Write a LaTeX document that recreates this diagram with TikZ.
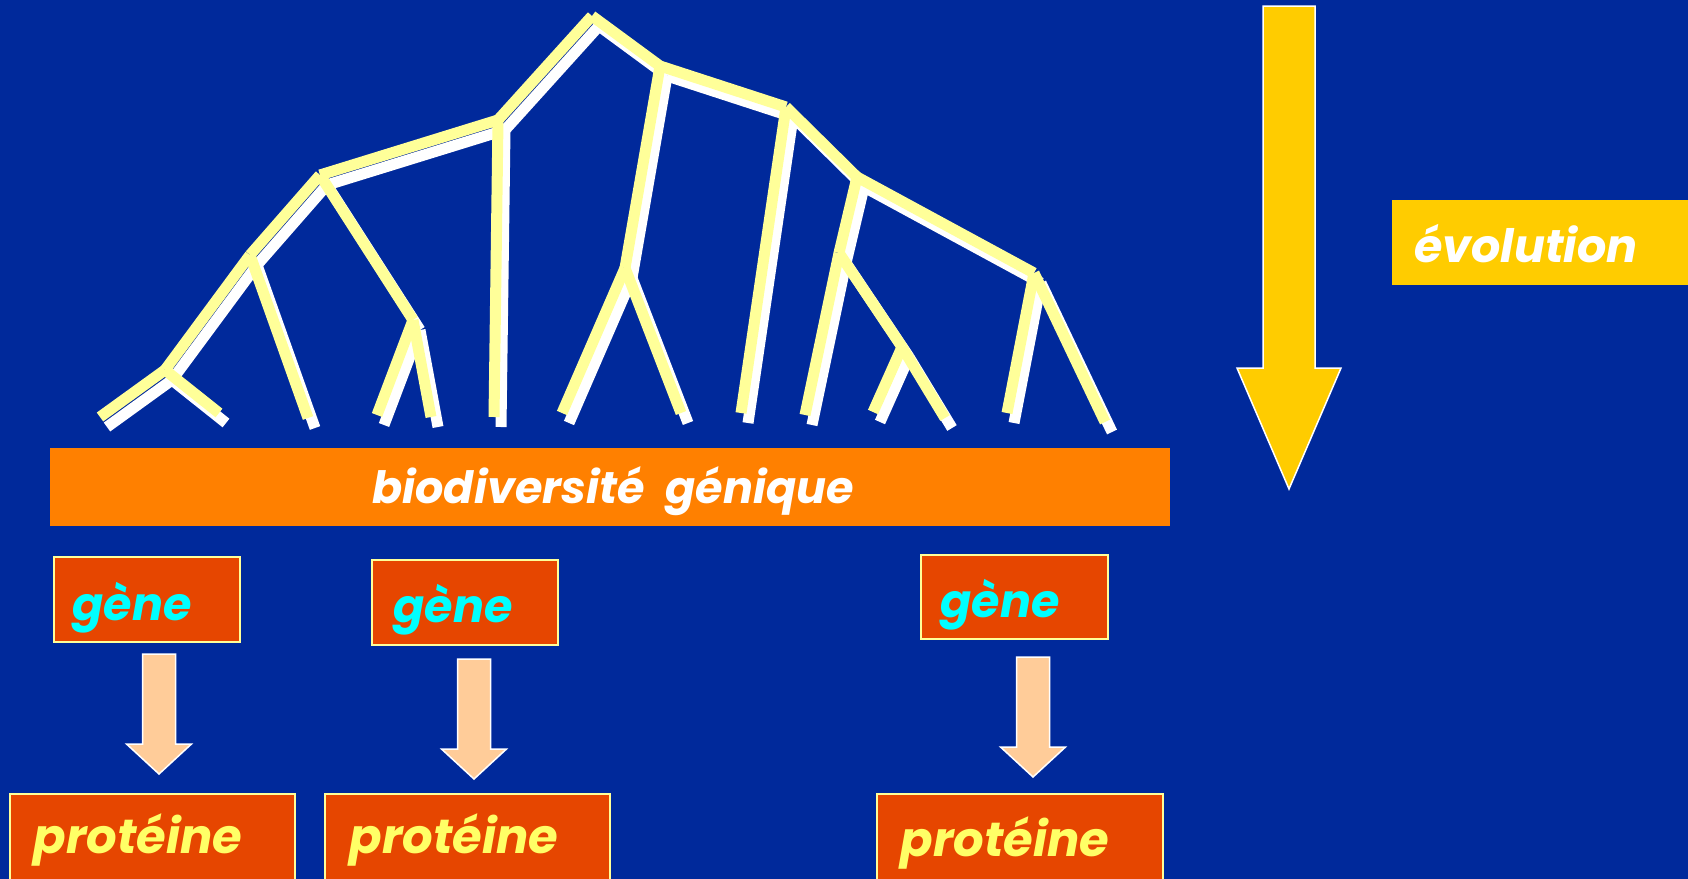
\documentclass[tikz,border=0pt]{standalone}
\usepackage{fontspec}
\setmainfont{Poppins}

\definecolor{bgblue}{HTML}{00299B}
\definecolor{bgdark}{HTML}{001C7C}
\definecolor{treeyellow}{HTML}{FFFF99}
\definecolor{barorange}{HTML}{FF8000}
\definecolor{boxorange}{HTML}{E64600}
\definecolor{evoyellow}{HTML}{FFCC00}
\definecolor{peach}{HTML}{FFCC99}
\definecolor{protyellow}{HTML}{FFFF66}
\definecolor{genecyan}{HTML}{00FFFF}

\begin{document}
\begin{tikzpicture}[x=1pt,y=-1pt,
    branch/.style={draw=treeyellow,line width=11},
    branchshadow/.style={draw=white,line width=11},
    box/.style={rectangle,fill=boxorange,draw=treeyellow,line width=1.5},
    blockarrow/.style={draw=white,line width=1.5},
    word/.style={inner sep=0,anchor=base,font=\bfseries\itshape}]

\useasboundingbox (0,0) rectangle (1688,878);
\clip (0,0) rectangle (1688,878);
\shade[left color=bgblue,middle color=bgdark,right color=bgblue] (0,0) rectangle (1688,878);

% tree
\coordinate (A) at (592,16);
\coordinate (B) at (498,120);
\coordinate (C) at (660,66);
\coordinate (D) at (320,175);
\coordinate (E) at (250,255);
\coordinate (F) at (413,320);
\coordinate (G) at (165,370);
\coordinate (H) at (625,268);
\coordinate (I) at (786,107);
\coordinate (J) at (857,177);
\coordinate (K) at (839,253);
\coordinate (L) at (1034,273);
\coordinate (M) at (902,347);
\coordinate (l1) at (100,417);
\coordinate (l2) at (219,413);
\coordinate (l3) at (308,418);
\coordinate (l4) at (377,415);
\coordinate (l5) at (431,417);
\coordinate (l6) at (494,417);
\coordinate (l7) at (562,413);
\coordinate (l8) at (681,413);
\coordinate (l9) at (741,413);
\coordinate (l10) at (805,415);
\coordinate (l11) at (873,412);
\coordinate (l12) at (945,418);
\coordinate (l13) at (1007,413);
\coordinate (l14) at (1105,422);

\def\treelist{A/B,A/C,B/D,B/l6,D/E,D/F,E/G,E/l3,G/l1,G/l2,F/l4,F/l5,
  C/H,C/I,H/l7,H/l8,I/l9,I/J,J/K,J/L,K/l10,K/M,M/l11,M/l12,L/l13,L/l14}

\begin{scope}[transform canvas={shift={(7,10)}}]
\foreach \a/\b in \treelist
  \draw[branchshadow] (\a) -- (\b);
\end{scope}
\foreach \a/\b in \treelist
  \draw[branch] (\a) -- (\b);

% bars
\node[rectangle,fill=barorange,minimum width=1120,minimum height=78] (bar) at (610,486.5) {};
\node[word,text=white,font=\fontsize{44.5}{52}\selectfont\bfseries\itshape] at (613,503) {biodiversité~~génique};

\node[rectangle,fill=evoyellow,minimum width=310,minimum height=85] (evobox) at (1547,242.5) {};
\node[word,text=white,font=\fontsize{46}{54}\selectfont\bfseries\itshape] at (1526,262) {évolution};

% evolution arrow
\draw[blockarrow,fill=evoyellow] (1289,6) coordinate (evo) -- ++(26,0) -- ++(0,362) -- ++(26,0)
  -- ++(-52,121) -- ++(-52,-121) -- ++(26,0) -- ++(0,-362) -- cycle;

% genes and proteins
\node[box,minimum width=186,minimum height=85] (gene1) at (147,599.5) {};
\node[box,minimum width=186,minimum height=85] (gene2) at (465,602.5) {};
\node[box,minimum width=187,minimum height=84] (gene3) at (1014.5,597) {};
\node[box,minimum width=285,minimum height=106] (prot1) at (152.5,847) {};
\node[box,minimum width=285,minimum height=106] (prot2) at (467.5,847) {};
\node[box,minimum width=286,minimum height=106] (prot3) at (1020,847) {};

\foreach \x/\y/\t in {132/620/gène,453/622/gène,1000/617/gène}
  \node[word,text=genecyan,font=\fontsize{46}{54}\selectfont\bfseries\itshape] at (\x,\y) {\t};
\foreach \x/\y/\t in {138/853/protéine,454/853/protéine,1005/856/protéine}
  \node[word,text=protyellow,font=\fontsize{48}{56}\selectfont\bfseries\itshape] at (\x,\y) {\t};

\foreach \x/\y in {159/654,474/659,1033/657}
  \draw[blockarrow,fill=peach] (\x,\y) -- ++(16.5,0) -- ++(0,90) -- ++(16,0)
    -- ++(-32.5,30) -- ++(-32.5,-30) -- ++(16,0) -- ++(0,-90) -- cycle;

\end{tikzpicture}
\end{document}
